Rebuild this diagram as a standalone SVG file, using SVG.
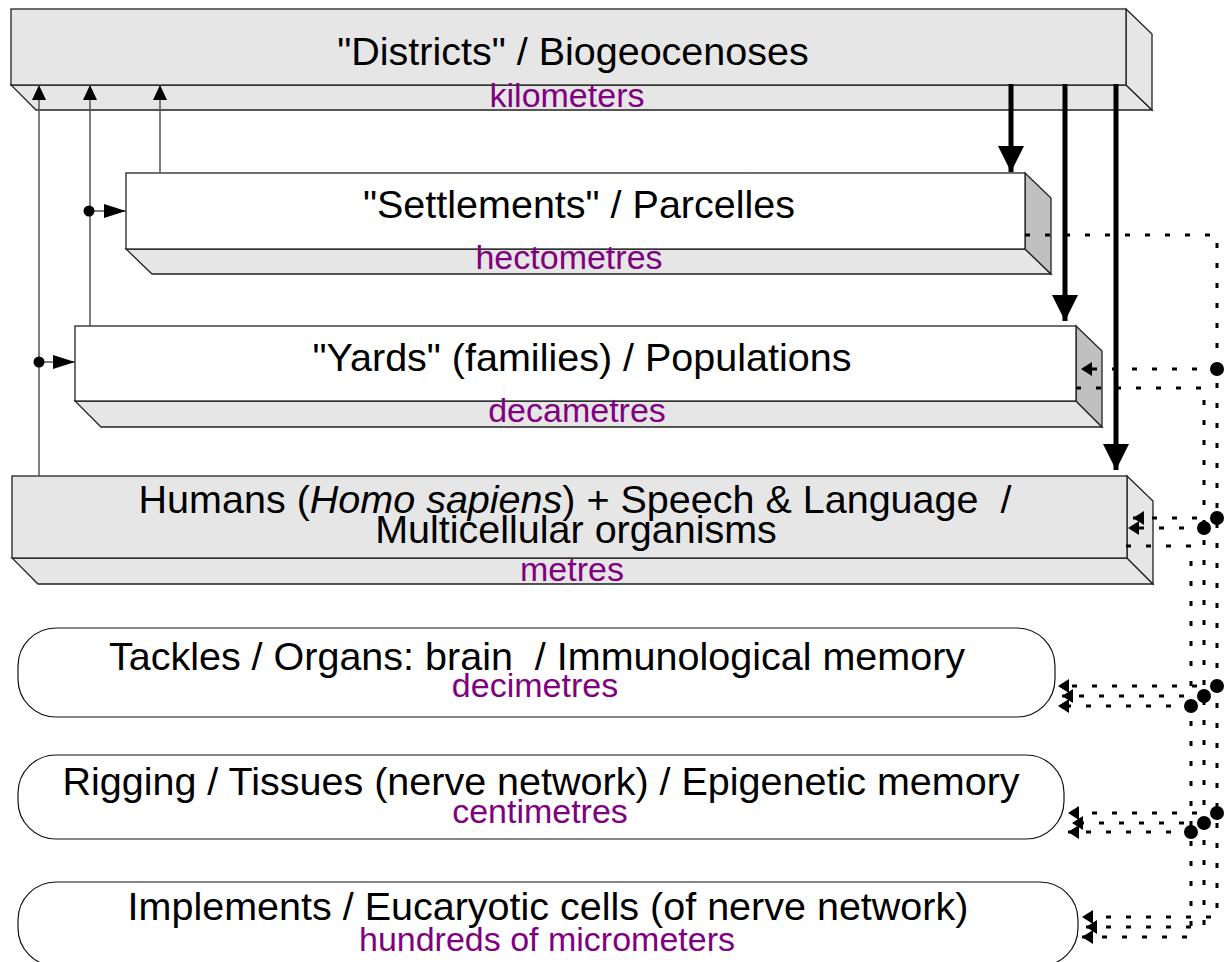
<svg xmlns="http://www.w3.org/2000/svg" width="1232" height="962" viewBox="0 0 1232 962">
<style>
.face{stroke:#222;stroke-width:1.3;stroke-linejoin:miter}
.lg{fill:#e6e6e6}
.wh{fill:#ffffff}
.dg{fill:#c0c0c0}
.rbox{fill:#ffffff;stroke:#111;stroke-width:1.2}
.t{font-family:"Liberation Sans",Arial,sans-serif;font-size:39.5px;fill:#000;text-anchor:middle;white-space:pre}
.u{font-family:"Liberation Sans",Arial,sans-serif;font-size:34px;fill:#800080;text-anchor:middle}
.thin{stroke:#555;stroke-width:1.5;fill:none}
.thick{stroke:#000;stroke-width:5;fill:none}
.dot{stroke:#000;stroke-width:3;fill:none;stroke-dasharray:5 15}
</style>
<defs>
<marker id="ahThin" markerUnits="userSpaceOnUse" markerWidth="15" markerHeight="14" viewBox="0 0 15 14" refX="15" refY="7" orient="auto"><path d="M0,0 L15,7 L0,14 z" fill="#000"/></marker>
<marker id="ahBranch" markerUnits="userSpaceOnUse" markerWidth="22" markerHeight="14" viewBox="0 0 22 14" refX="22" refY="7" orient="auto"><path d="M0,0 L22,7 L0,14 z" fill="#000"/></marker>
<marker id="ahThick" markerUnits="userSpaceOnUse" markerWidth="26" markerHeight="26" viewBox="0 0 26 26" refX="26" refY="13" orient="auto"><path d="M0,0 L26,13 L0,26 z" fill="#000"/></marker>
<marker id="ahDot" markerUnits="userSpaceOnUse" markerWidth="11" markerHeight="14" viewBox="0 0 11 14" refX="11" refY="7" orient="auto"><path d="M0,0 L11,7 L0,14 z" fill="#000"/></marker>
</defs>

<g id="districts">
<polygon class="face lg" points="11,85 1126,85 1152,110 36,110"/>
<polygon class="face lg" points="1126,9 1152,34 1152,110 1126,85"/>
<rect class="face lg" x="11" y="9" width="1115" height="76"/>
<text class="t" x="573" y="65">"Districts" / Biogeocenoses</text>
<text class="u" x="567" y="107">kilometers</text>
</g>

<g id="settlements">
<polygon class="face lg" points="126,249 1025,249 1051,274 152,274"/>
<polygon class="face dg" points="1025,173 1051,198 1051,274 1025,249"/>
<rect class="face wh" x="126" y="173" width="899" height="76"/>
<text class="t" x="579" y="218">"Settlements" / Parcelles</text>
<text class="u" x="569" y="269">hectometres</text>
</g>

<g id="yards">
<polygon class="face lg" points="75,401 1076,401 1102,427 101,427"/>
<polygon class="face dg" points="1076,326 1102,351 1102,427 1076,401"/>
<rect class="face wh" x="75" y="326" width="1001" height="75"/>
<text class="t" x="582" y="371">"Yards" (families) / Populations</text>
<text class="u" x="577" y="422">decametres</text>
</g>

<g id="humans">
<polygon class="face lg" points="12,558 1127,558 1153,584 38,584"/>
<polygon class="face lg" points="1127,476 1153,501 1153,584 1127,558"/>
<rect class="face lg" x="12" y="476" width="1115" height="82"/>
<text class="t" x="575" y="513" xml:space="preserve">Humans (<tspan font-style="italic">Homo sapiens</tspan>) + Speech &amp; Language  /</text>
<text class="t" x="576" y="543">Multicellular organisms</text>
<text class="u" x="572" y="581">metres</text>
</g>

<g id="tackles">
<rect class="rbox" x="18" y="628" width="1037" height="89" rx="38" ry="38"/>
<text class="t" x="537" y="670" xml:space="preserve">Tackles / Organs: brain  / Immunological memory</text>
<text class="u" x="535" y="697">decimetres</text>
</g>

<g id="rigging">
<rect class="rbox" x="18" y="755" width="1046" height="84" rx="38" ry="38"/>
<text class="t" x="541" y="795">Rigging / Tissues (nerve network) / Epigenetic memory</text>
<text class="u" x="540" y="823">centimetres</text>
</g>

<g id="implements">
<rect class="rbox" x="18" y="882" width="1060" height="84" rx="38" ry="38"/>
<text class="t" x="548" y="920">Implements / Eucaryotic cells (of nerve network)</text>
<text class="u" x="547" y="951">hundreds of micrometers</text>
</g>

<g id="connectors">
<path class="thin" d="M39,476 V85" marker-end="url(#ahThin)"/>
<path class="thin" d="M90,326 V85" marker-end="url(#ahThin)"/>
<path class="thin" d="M160,173 V85" marker-end="url(#ahThin)"/>
<path class="thin" d="M89,211 H126" marker-end="url(#ahBranch)"/>
<circle cx="89" cy="211" r="5.5" fill="#000"/>
<path class="thin" d="M39,362 H75" marker-end="url(#ahBranch)"/>
<circle cx="39" cy="362" r="5.5" fill="#000"/>

<path class="thick" d="M1011,84 V172" marker-end="url(#ahThick)"/>
<path class="thick" d="M1065,84 V321" marker-end="url(#ahThick)"/>
<path class="thick" d="M1116,84 V470" marker-end="url(#ahThick)"/>

<path class="dot" d="M1025,235 H1217 V917 H1082" marker-end="url(#ahDot)"/>
<path class="dot" d="M1217,369 H1081" marker-end="url(#ahDot)"/>
<path class="dot" d="M1217,518 H1133" marker-end="url(#ahDot)"/>
<path class="dot" d="M1217,686 H1058" marker-end="url(#ahDot)"/>
<path class="dot" d="M1217,813 H1068" marker-end="url(#ahDot)"/>

<path class="dot" d="M1076,388 H1204 V927 H1086" marker-end="url(#ahDot)"/>
<path class="dot" d="M1204,528 H1128" marker-end="url(#ahDot)"/>
<path class="dot" d="M1204,696 H1062" marker-end="url(#ahDot)"/>
<path class="dot" d="M1204,823 H1072" marker-end="url(#ahDot)"/>

<path class="dot" d="M1126,546 H1191 V937 H1082" marker-end="url(#ahDot)"/>
<path class="dot" d="M1191,706 H1058" marker-end="url(#ahDot)"/>
<path class="dot" d="M1191,832 H1068" marker-end="url(#ahDot)"/>

<g fill="#000">
<circle cx="1217" cy="369" r="7"/>
<circle cx="1217" cy="518" r="7"/>
<circle cx="1217" cy="686" r="7"/>
<circle cx="1217" cy="813" r="7"/>
<circle cx="1204" cy="528" r="7"/>
<circle cx="1204" cy="696" r="7"/>
<circle cx="1204" cy="823" r="7"/>
<circle cx="1191" cy="706" r="7"/>
<circle cx="1191" cy="832" r="7"/>
</g>
</g>
</svg>
